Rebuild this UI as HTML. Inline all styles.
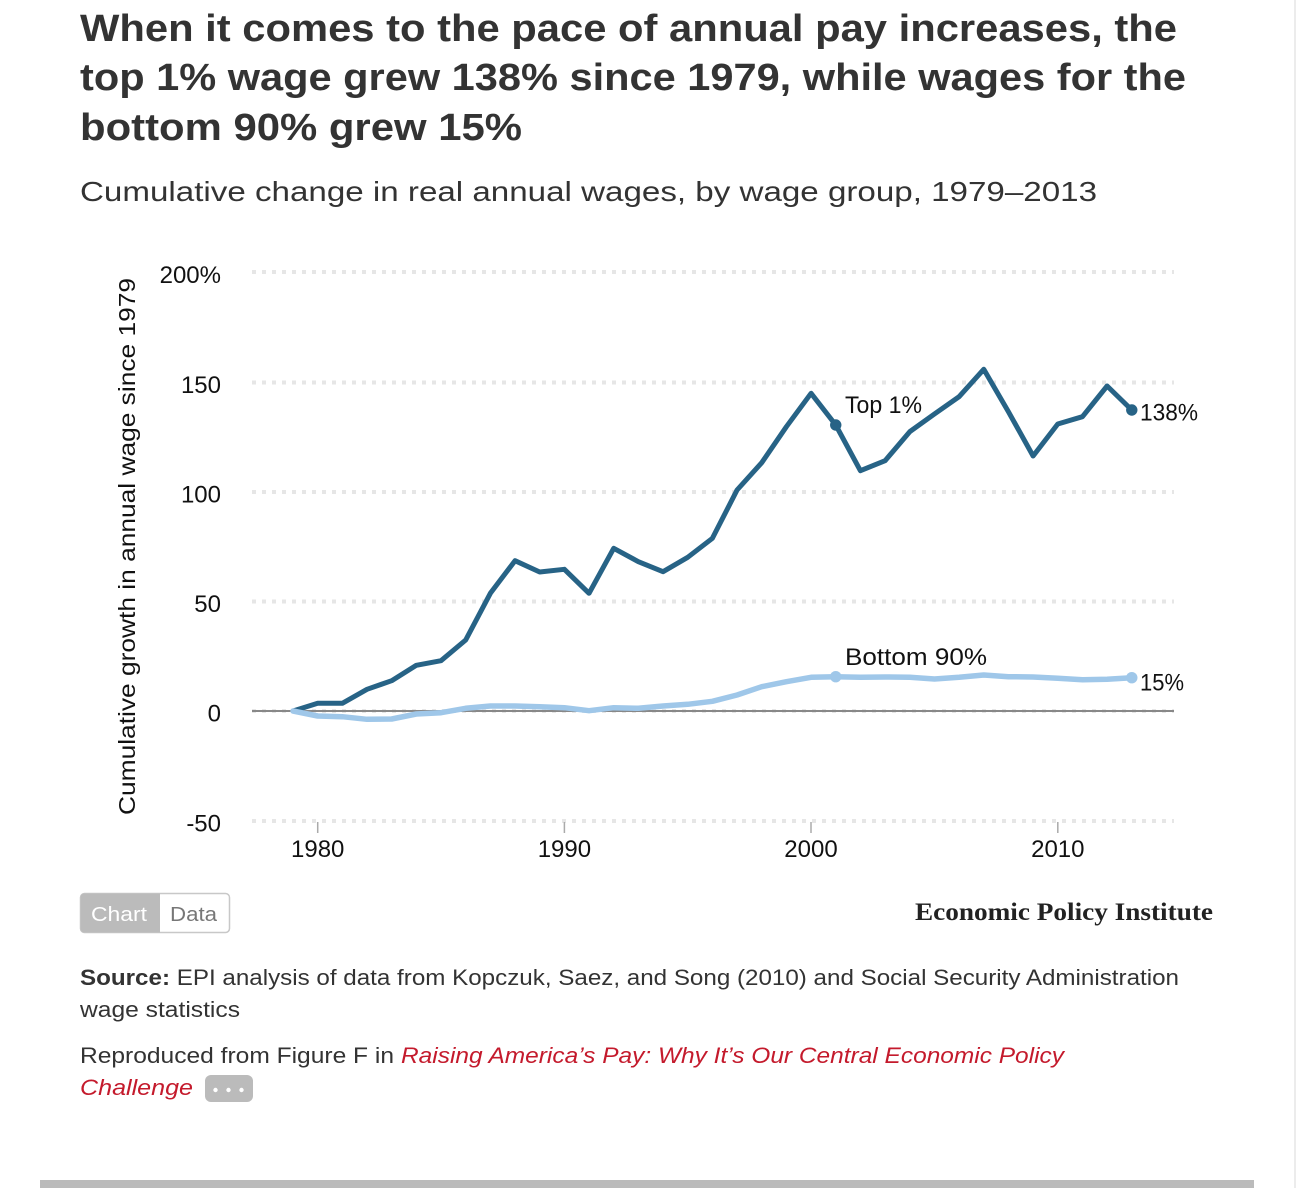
<!DOCTYPE html>
<html>
<head>
<meta charset="utf-8">
<style>
html,body{margin:0;padding:0;background:#fff;}
svg{display:block;}
text{font-family:"Liberation Sans",Arial,sans-serif;}
</style>
</head>
<body>
<svg width="1306" height="1188" viewBox="0 0 1306 1188" xmlns="http://www.w3.org/2000/svg">
<rect x="0" y="0" width="1306" height="1188" fill="#fff"/>
<!-- right border -->
<rect x="1294" y="0" width="2" height="1188" fill="#ececec"/>

<!-- Title -->
<g font-weight="bold" font-size="38" fill="#333">
<text x="80" y="41" textLength="1097" lengthAdjust="spacingAndGlyphs">When it comes to the pace of annual pay increases, the</text>
<text x="80" y="90" textLength="1106" lengthAdjust="spacingAndGlyphs">top 1% wage grew 138% since 1979, while wages for the</text>
<text x="80" y="140" textLength="442" lengthAdjust="spacingAndGlyphs">bottom 90% grew 15%</text>
</g>
<text x="80" y="201" font-size="28" fill="#333" textLength="1017" lengthAdjust="spacingAndGlyphs">Cumulative change in real annual wages, by wage group, 1979–2013</text>

<!-- Gridlines -->
<g stroke="#e6e6e6" stroke-width="4" stroke-dasharray="4 6" fill="none">
<line x1="252" y1="272" x2="1174" y2="272"/>
<line x1="252" y1="382.5" x2="1174" y2="382.5"/>
<line x1="252" y1="492" x2="1174" y2="492"/>
<line x1="252" y1="601.5" x2="1174" y2="601.5"/>
<line x1="252" y1="711" x2="1174" y2="711"/>
<line x1="252" y1="821" x2="1174" y2="821"/>
</g>
<line x1="252" y1="711" x2="1174" y2="711" stroke="#888" stroke-width="2"/>

<!-- x ticks -->
<g stroke="#aaa" stroke-width="1.5">
<line x1="317.7" y1="822" x2="317.7" y2="833"/>
<line x1="564.4" y1="822" x2="564.4" y2="833"/>
<line x1="811" y1="822" x2="811" y2="833"/>
<line x1="1057.8" y1="822" x2="1057.8" y2="833"/>
</g>

<!-- Y tick labels -->
<g font-size="24" fill="#111" text-anchor="end">
<text x="221" y="283">200%</text>
<text x="221" y="393">150</text>
<text x="221" y="502.5">100</text>
<text x="221" y="612">50</text>
<text x="221" y="721.5">0</text>
<text x="221" y="831.5">-50</text>
</g>

<!-- X tick labels -->
<g font-size="24" fill="#111" text-anchor="middle">
<text x="317.7" y="857">1980</text>
<text x="564.4" y="857">1990</text>
<text x="811" y="857">2000</text>
<text x="1057.8" y="857">2010</text>
</g>

<!-- Y axis title -->
<text transform="translate(135,546.5) rotate(-90)" text-anchor="middle" font-size="23" fill="#111" textLength="537" lengthAdjust="spacingAndGlyphs">Cumulative growth in annual wage since 1979</text>

<!-- Top 1% -->
<polyline fill="none" stroke="#276386" stroke-width="5" stroke-linejoin="round" stroke-linecap="round"
points="293,711 317.67,703.3 342.34,703.3 367.01,689.3 391.68,680.7 416.35,665.3 441.02,660.7 465.69,640 490.36,593.3 515.03,560.7 539.7,572 564.37,569.3 589.04,593.3 613.71,548.3 638.38,561.7 663.05,571.7 687.72,557.3 712.39,538.3 737.06,490 761.73,462.7 786.4,426.7 811.07,393.3 835.74,425 860.41,470.7 885.08,460.7 909.75,431.7 934.42,414 959.09,396.7 983.76,369.3 1008.43,411.7 1033.1,456 1057.77,424 1082.44,416.7 1107.11,386 1131.78,410"/>
<circle cx="835.74" cy="425" r="5.7" fill="#276386"/>
<circle cx="1131.78" cy="410" r="5.7" fill="#276386"/>

<!-- Bottom 90% -->
<polyline fill="none" stroke="#9fc7e9" stroke-width="5.5" stroke-linejoin="round" stroke-linecap="round"
points="293,711 317.67,716 342.34,716.7 367.01,719.3 391.68,719 416.35,714 441.02,712.7 465.69,708.3 490.36,706 515.03,706 539.7,706.7 564.37,707.7 589.04,710.7 613.71,707.7 638.38,708.3 663.05,706 687.72,704.3 712.39,701.3 737.06,695 761.73,686.7 786.4,681.7 811.07,677.3 835.74,676.7 860.41,677.3 885.08,677 909.75,677.3 934.42,679 959.09,677.3 983.76,675 1008.43,676.7 1033.1,677 1057.77,678.3 1082.44,679.7 1107.11,679.3 1131.78,677.7"/>
<circle cx="835.74" cy="676.7" r="5.7" fill="#9fc7e9"/>
<circle cx="1131.78" cy="677.7" r="5.7" fill="#9fc7e9"/>

<!-- Annotations -->
<g font-size="24" fill="#111">
<text x="845" y="413" textLength="77" lengthAdjust="spacingAndGlyphs">Top 1%</text>
<text x="1140" y="420.5" textLength="58" lengthAdjust="spacingAndGlyphs">138%</text>
<text x="845" y="665" textLength="142" lengthAdjust="spacingAndGlyphs">Bottom 90%</text>
<text x="1140" y="690.5" textLength="44" lengthAdjust="spacingAndGlyphs">15%</text>
</g>

<!-- Chart / Data toggle -->
<rect x="80.5" y="893.5" width="149" height="39" rx="4" fill="#fff" stroke="#c8c8c8" stroke-width="1.5"/>
<path d="M84.5,893.5 H160 V932.5 H84.5 A4,4 0 0 1 80.5,928.5 V897.5 A4,4 0 0 1 84.5,893.5 Z" fill="#bbb"/>
<text x="91" y="921" font-size="20" fill="#fff" textLength="56" lengthAdjust="spacingAndGlyphs">Chart</text>
<text x="170" y="921" font-size="20" fill="#777" textLength="47" lengthAdjust="spacingAndGlyphs">Data</text>

<!-- EPI logo -->
<text x="915" y="920" font-weight="bold" font-size="25" fill="#222" textLength="298" lengthAdjust="spacingAndGlyphs" style="font-family:'Liberation Serif',serif">Economic Policy Institute</text>

<!-- Source -->
<text x="80" y="985" font-size="22" fill="#333" textLength="1099" lengthAdjust="spacingAndGlyphs"><tspan font-weight="bold">Source:</tspan> EPI analysis of data from Kopczuk, Saez, and Song (2010) and Social Security Administration</text>
<text x="80" y="1017" font-size="22" fill="#333" textLength="160" lengthAdjust="spacingAndGlyphs">wage statistics</text>

<text x="80" y="1063" font-size="22" fill="#333" textLength="314" lengthAdjust="spacingAndGlyphs">Reproduced from Figure F in</text>
<text x="401" y="1063" font-size="22" fill="#c41a2c" font-style="italic" textLength="663" lengthAdjust="spacingAndGlyphs">Raising America’s Pay: Why It’s Our Central Economic Policy</text>
<text x="80" y="1095" font-size="22" fill="#c41a2c" font-style="italic" textLength="113" lengthAdjust="spacingAndGlyphs">Challenge</text>

<rect x="205" y="1075" width="48" height="27" rx="6" fill="#bbb"/>
<circle cx="215.5" cy="1090" r="2.2" fill="#fff"/>
<circle cx="228.5" cy="1090" r="2.2" fill="#fff"/>
<circle cx="241.5" cy="1090" r="2.2" fill="#fff"/>

<!-- bottom bar -->
<rect x="40" y="1180" width="1214" height="8" fill="#bbb"/>
</svg>
</body>
</html>
